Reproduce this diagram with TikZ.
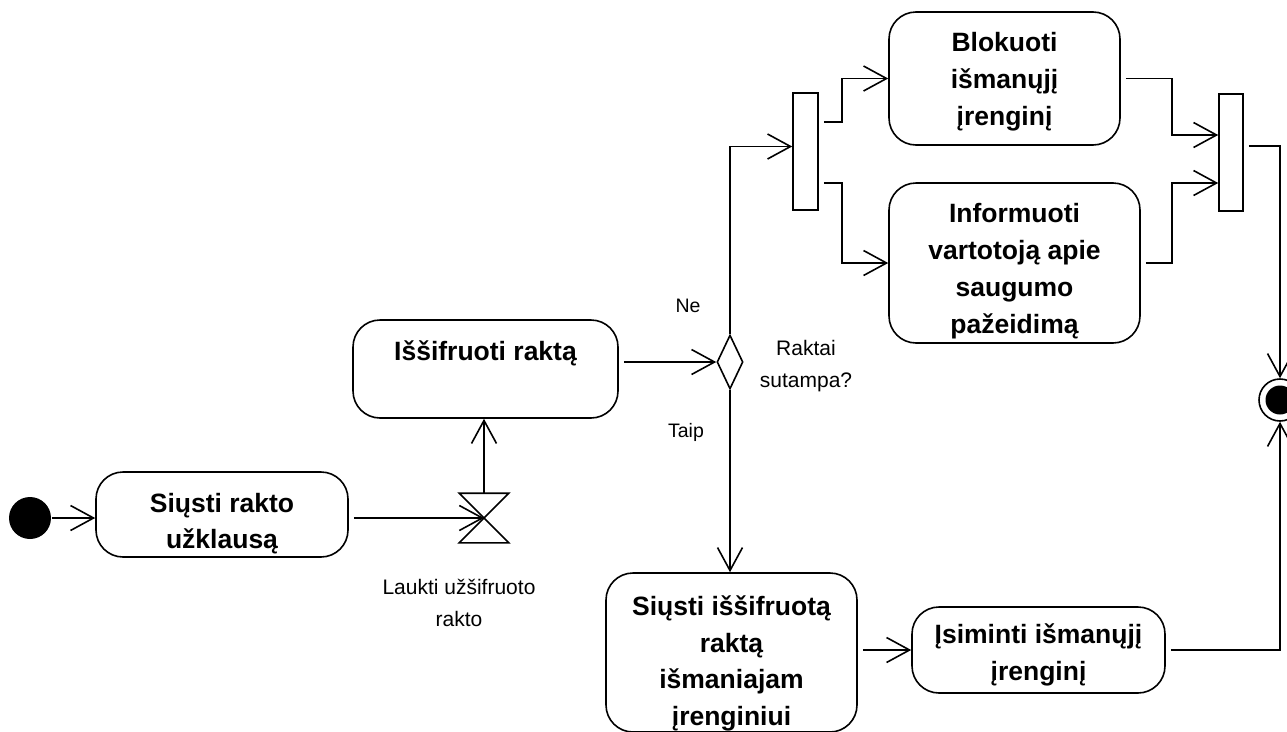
\documentclass[tikz,border=0pt]{standalone}
\usepackage{fontspec}
\setmainfont{Liberation Sans}
\usetikzlibrary{arrows.meta,shapes.geometric,calc}

% tall invisible strut on a first line: moves a centred text block down by #1
\newcommand\lowerby[1]{\rule{0pt}{\dimexpr 19.5pt+2\dimexpr #1\relax\relax}}

\begin{document}
\begin{tikzpicture}[x=1pt,y=-1pt,
  line width=1.6pt,
  arr/.style={-{Straight Barb[length=23pt,width=25pt]}},
  gap/.style={shorten <=5pt},
  act/.style={draw, rounded corners=27pt, inner sep=0pt, align=center,
    font=\bfseries\fontsize{26.5}{36.8}\selectfont},
  bar/.style={draw, rectangle, inner sep=0pt, minimum width=25pt, minimum height=117pt},
  note/.style={align=center, inner sep=0pt, font=\fontsize{21}{32}\selectfont},
  smallnote/.style={inner sep=0pt, font=\fontsize{19.5}{24}\selectfont}
]
\useasboundingbox (0,0) rectangle (1287,731);

% initial and final nodes
\node[circle, fill, minimum size=42pt, inner sep=0pt] (start) at (30,518) {};
\node[circle, draw, fill=white, minimum size=42pt, inner sep=0pt] (final) at (1280,400) {};
\fill (final.center) circle (14.5pt);

% actions
\node[act, minimum width=252pt, minimum height=85pt] (b1) at (222,514.5) {\lowerby{9pt}Siųsti rakto\\užklausą};
\node[act, minimum width=265pt, minimum height=98pt] (b2) at (485.5,369) {Iššifruoti raktą\\\mbox{}};
\node[act, minimum width=231pt, minimum height=133pt] (blk) at (1004.5,78.5) {\lowerby{3pt}Blokuoti\\išmanųjį\\įrenginį};
\node[act, minimum width=251pt, minimum height=160pt] (inf) at (1014.5,263) {\lowerby{8pt}Informuoti\\vartotoją apie\\saugumo\\pažeidimą};
\node[act, minimum width=251pt, minimum height=159pt] (send) at (731.5,652.5) {\lowerby{11pt}Siųsti iššifruotą\\raktą\\išmaniajam\\įrenginiui};
\node[act, minimum width=253pt, minimum height=86pt] (rem) at (1038.5,650) {\lowerby{5pt}Įsiminti išmanųjį\\įrenginį};

% time event (hourglass)
\node[minimum width=48pt, minimum height=48pt, inner sep=0pt] (wait) at (484,518) {};
\draw (wait.north west) -- (wait.north east) -- (wait.south west) -- (wait.south east) -- cycle;

% decision
\node[diamond, draw, minimum width=26pt, minimum height=54pt, inner sep=0pt] (dec) at (730,362) {};

% fork and join bars
\node[bar] (fork) at (805.5,151.5) {};
\node[bar, minimum width=24pt] (join) at (1231,152.5) {};

% labels
\node[note] (waitlbl) at (459,603) {Laukti užšifruoto\\rakto};
\node[note] (qlbl) at (806,366) {Raktai\\sutampa?};
\node[smallnote] (ne) at (688,306) {Ne};
\node[smallnote] (taip) at (686,432) {Taip};

% routing columns
\coordinate (kx) at (842,0);
\coordinate (jx) at (1172,0);
\coordinate (fa) at ($(fork.east)+(0,-29.5)$);
\coordinate (fb) at ($(fork.east)+(0,31.5)$);
\coordinate (ja) at ($(join.west)+(0,-17.5)$);
\coordinate (jb) at ($(join.west)+(0,30.5)$);
\coordinate (fin) at ($(fork.west)+(0,-5)$);
\coordinate (jout) at ($(join.east)+(0,-6.5)$);

% flows
\draw[arr] (start.east) -- (start.east -| b1.west);
\draw[arr, gap] (b1.east |- wait) -- (wait.center);
\draw[arr] (wait.north) -- (wait.north |- b2.south);
\draw[arr, gap] (b2.east |- dec) -- (dec.west);
\draw[arr] (dec.north) |- (fin);
\draw[arr, gap] (fa) -- (fa -| kx) |- (blk.west);
\draw[arr, gap] (fb) -- (fb -| kx) |- (inf.west);
\draw[arr, gap] (blk.east) -- (blk.east -| jx) |- (ja);
\draw[arr, gap] (inf.east) -- (inf.east -| jx) |- (jb);
\draw[arr, gap] (jout) -| (final.north);
\draw[arr] (dec.south) -- (dec.south |- send.north);
\draw[arr, gap] (send.east |- rem) -- (rem.west);
\draw[arr, gap] (rem.east) -| (final.south);
\end{tikzpicture}
\end{document}
